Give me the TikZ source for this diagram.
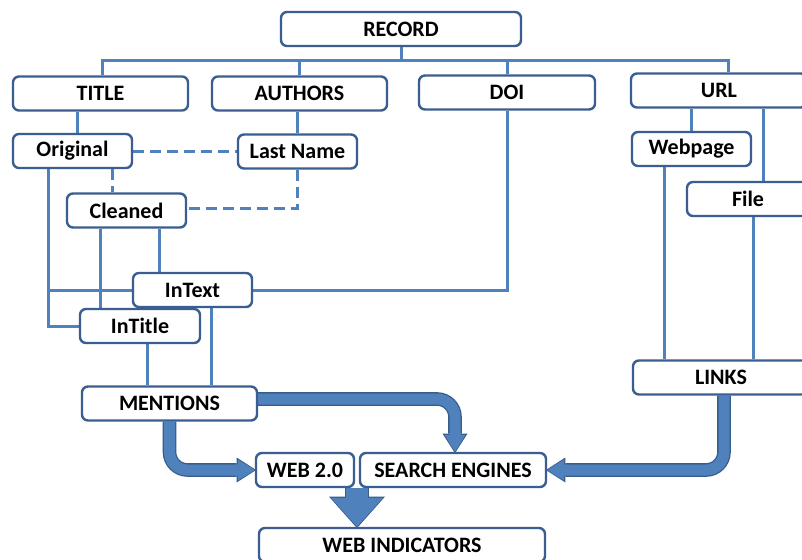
\documentclass[tikz,border=0pt]{standalone}
\usepackage{fontspec}
\setmainfont{Carlito}
\usetikzlibrary{arrows.meta,backgrounds,calc}
\definecolor{lineblue}{HTML}{4F81BD}
\definecolor{boxborder}{HTML}{3A5E8F}
\definecolor{arrowborder}{HTML}{385D8A}
\pgfdeclarelayer{bgzero}
\pgfsetlayers{bgzero,background,main}
\begin{document}
\begin{tikzpicture}[x=1pt,y=-1pt,
  box/.style={draw=boxborder, line width=2.4pt, rounded corners=6pt, fill=white,
    font=\bfseries\fontsize{22}{25}\selectfont, text=black, inner sep=0pt,
    minimum height=34pt},
  conn/.style={draw=lineblue, line width=3pt},
  dashconn/.style={conn, dash pattern=on 11pt off 6pt},
  fatarrow/.style={draw=lineblue, line width=11pt, rounded corners=18pt,
    -{Triangle[width=21pt,length=17pt,line width=0pt]},
    preaction={draw=arrowborder, line width=13.6pt,
      -{Triangle[width=25pt,length=19.5pt,line width=0pt]}, shorten >=-1.3pt}},
  bigdown/.style={draw=lineblue, line width=22pt,
    -{Triangle[width=52pt,length=29pt,line width=0pt]},
    preaction={draw=arrowborder, line width=24.6pt,
      -{Triangle[width=56pt,length=31.5pt,line width=0pt]}, shorten >=-1.3pt}}
]
\begin{pgfonlayer}{bgzero}
\fill[white] (0,0) rectangle (802,559);
\end{pgfonlayer}
\useasboundingbox (0,0) rectangle (802,559);

% nodes
\node[box, minimum width=240pt] (record) at (401,29) {RECORD};
\node[box, minimum width=175pt] (title) at (100.5,93.5) {TITLE};
\node[box, minimum width=175pt] (authors) at (299.5,93.5) {AUTHORS};
\node[box, minimum width=176pt] (doi) at (507,92.5) {DOI};
\node[box, minimum width=176pt] (url) at (719,90.5) {URL};
\node[box, minimum width=119pt] (original) at (72.5,151) {Original};
\node[box, minimum width=119pt] (lastname) at (297.5,151.5) {Last Name};
\node[box, minimum width=119pt] (cleaned) at (126.5,210.5) {Cleaned};
\node[box, minimum width=119pt] (intext) at (192.5,290) {InText};
\node[box, minimum width=120pt] (intitle) at (140,326) {InTitle};
\node[box, minimum width=175pt] (mentions) at (169.5,403.5) {MENTIONS};
\node[box, minimum width=98pt] (web) at (305,470) {WEB 2.0};
\node[box, minimum width=186pt] (search) at (453,470) {SEARCH ENGINES};
\node[box, minimum width=286pt] (ind) at (402,545) {WEB INDICATORS};
\node[box, minimum width=119pt] (webpage) at (691.5,149) {Webpage};
\node[box, minimum width=122pt] (file) at (748,199) {File};
\node[box, minimum width=176pt] (links) at (721,377.5) {LINKS};

\begin{scope}[on background layer]
% tree from RECORD
\coordinate (bus) at (401,61);
\draw[conn] (record.south) -- (bus);
\draw[conn] ([xshift=1.5pt]title.north) |- (bus) -| ([xshift=9pt]url.north);
\draw[conn] (authors.north) -- (authors.north |- bus);
\draw[conn] (doi.north) -- (doi.north |- bus);
% TITLE / AUTHORS branches
\draw[conn] ([xshift=4.5pt]original.north) -- ([xshift=4.5pt]original.north |- title.south);
\draw[conn] (lastname.north) -- (lastname.north |- authors.south);
\draw[dashconn] (original.east) -- (original.east -| lastname.west);
\draw[dashconn] ([xshift=39.5pt]original.south) -- ([xshift=39.5pt]original.south |- cleaned.north);
\draw[dashconn] (lastname.south) |- ([yshift=2.5pt]cleaned.east);
% to InText / InTitle
\coordinate (ol) at ([xshift=-24.5pt]original.south);
\draw[conn] (ol) |- (intitle.west);
\draw[conn] (intext.west) -- (intext.west -| ol);
\draw[conn] ([xshift=-26.5pt]cleaned.south) -- ([xshift=-26.5pt]cleaned.south |- intitle.north);
\draw[conn] ([xshift=32.5pt]cleaned.south) -- ([xshift=32.5pt]cleaned.south |- intext.north);
\draw[conn] (intext.east) -| (doi.south);
% to MENTIONS
\draw[conn] ([xshift=7pt]intitle.south) -- ([xshift=7pt]intitle.south |- mentions.north);
\draw[conn] ([xshift=18.5pt]intext.south) -- ([xshift=18.5pt]intext.south |- mentions.north);
% URL branch
\draw[conn] (webpage.north) -- (webpage.north |- url.south);
\draw[conn] ([xshift=15pt]file.north) -- ([xshift=15pt]file.north |- url.south);
\draw[conn] ([xshift=-27.5pt]webpage.south) -- ([xshift=-27.5pt]webpage.south |- links.north);
\draw[conn] ([xshift=5pt]file.south) -- ([xshift=5pt]file.south |- links.north);
% thick arrows
\draw[fatarrow] (mentions.south) |- (web.west);
\draw[fatarrow] ([yshift=4.5pt]mentions.east) -| ([xshift=2pt]search.north);
\draw[fatarrow] ([xshift=3pt]links.south) |- (search.east);
\coordinate (mid) at ($(web.south east)!0.5!(search.south west)$);
\draw[bigdown] (mid) -- (mid |- ind.north);
\end{scope}
\end{tikzpicture}
\end{document}
